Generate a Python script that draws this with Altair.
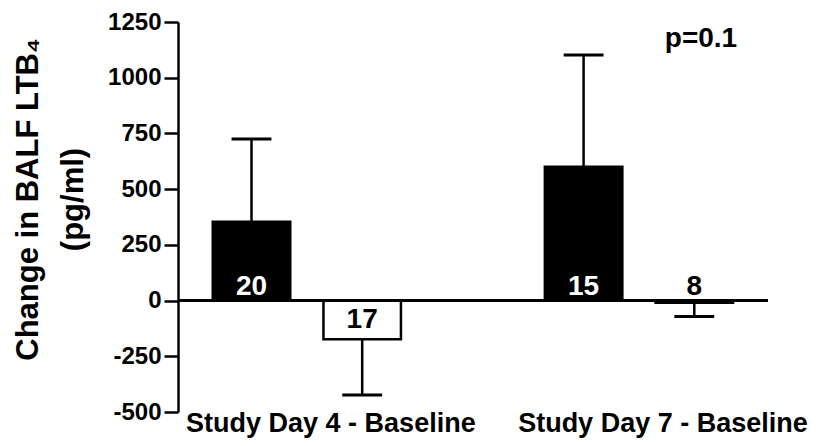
import altair as alt
import pandas as pd

# ---- data ----
positions = [1, 2, 4, 5]
means = [354, -174, 601, -10]
sems = [371, 250, 501, 62]
ns = ["20", "17", "15", "8"]
fills = ["#000000", "#ffffff", "#000000", "#ffffff"]
label_colors = ["#ffffff", "#000000", "#ffffff", "#000000"]
label_side = ["above", "below", "above", "above"]
group_labels = ["Study Day 4 - Baseline", "Study Day 7 - Baseline"]
group_pos = [1.5, 4.5]
y_ticks = [-500, -250, 0, 250, 500, 750, 1000, 1250]
y_title = ["Change in BALF LTB\u2084", "(pg/ml)"]
p_text = "p=0.1"

FONT = "Liberation Sans"
BAR_HALF = 0.35
CAP_HALF = 0.18

df = pd.DataFrame({
    "pos": positions, "mean": means, "sem": sems, "n": ns,
    "fill": fills, "lc": label_colors, "side": label_side,
})
df["zero"] = 0
df["end"] = [m + (s if m >= 0 else -s) for m, s in zip(means, sems)]
df["lo"] = df["pos"] - BAR_HALF
df["hi"] = df["pos"] + BAR_HALF
df["cap_lo"] = df["pos"] - CAP_HALF
df["cap_hi"] = df["pos"] + CAP_HALF

gdf = pd.DataFrame({"pos": group_pos, "label": group_labels})

xs = alt.Scale(domain=[0.336, 5.684], nice=False, zero=False)
ys = alt.Scale(domain=[-500, 1250], nice=False, zero=False)

yaxis = alt.Axis(
    values=y_ticks, grid=False, labelFlush=False, labelOverlap=False,
    labelExpr="'' + datum.value",
    labelFont=FONT, labelFontSize=24, labelFontWeight="bold", labelColor="black",
    labelPadding=3, tickSize=14, tickWidth=2.5, tickColor="black",
    domainColor="black", domainWidth=2.5,
    title=y_title, titleFont=FONT, titleFontSize=31, titleFontWeight="bold",
    titleColor="black", titleAngle=270, titleX=-141, titleY=177,
    titleAlign="center", titleBaseline="alphabetic", titleLineHeight=45,
)

base = alt.Chart(df)

bars = base.mark_bar(stroke="black", strokeWidth=2.5).encode(
    x=alt.X("lo:Q", scale=xs, axis=None),
    x2="hi:Q",
    y=alt.Y("mean:Q", scale=ys, axis=yaxis),
    y2="zero:Q",
    fill=alt.Fill("fill:N", scale=None),
)

zero_line = alt.Chart(pd.DataFrame({"y": [0]})).mark_rule(
    color="black", strokeWidth=3
).encode(y=alt.Y("y:Q", scale=ys), x=alt.value(0), x2=alt.value(590))

stems = base.mark_rule(color="black", strokeWidth=2.5).encode(
    x=alt.X("pos:Q", scale=xs), y=alt.Y("mean:Q", scale=ys), y2="end:Q"
)
caps = base.mark_rule(color="black", strokeWidth=3).encode(
    x=alt.X("cap_lo:Q", scale=xs), x2="cap_hi:Q", y=alt.Y("end:Q", scale=ys)
)

lab_above = base.transform_filter(alt.datum.side == "above").mark_text(
    font=FONT, fontSize=28, fontWeight="bold", baseline="alphabetic", dy=-6
).encode(
    x=alt.X("pos:Q", scale=xs), y=alt.Y("zero:Q", scale=ys), text="n:N",
    color=alt.Color("lc:N", scale=None),
)
lab_below = base.transform_filter(alt.datum.side == "below").mark_text(
    font=FONT, fontSize=28, fontWeight="bold", baseline="alphabetic", dy=27
).encode(
    x=alt.X("pos:Q", scale=xs), y=alt.Y("zero:Q", scale=ys), text="n:N",
    color=alt.Color("lc:N", scale=None),
)

group_text = alt.Chart(gdf).mark_text(
    font=FONT, fontSize=27, fontWeight="bold", baseline="alphabetic",
    align="center", dx=24, color="black"
).encode(x=alt.X("pos:Q", scale=xs), y=alt.value(410), text="label:N")

p_label = alt.Chart(pd.DataFrame({"t": [p_text]})).mark_text(
    font=FONT, fontSize=28, fontWeight="bold", baseline="alphabetic",
    align="center", color="black"
).encode(x=alt.value(523), y=alt.value(25), text="t:N")

chart = alt.layer(
    bars, zero_line, stems, caps, lab_above, lab_below, group_text, p_label
).properties(
    width=592, height=390,
    autosize=alt.AutoSizeParams(type="none"),
    padding={"left": 170, "top": 14, "right": 46, "bottom": 26},
    background="white",
).configure_view(stroke=None)

chart.save("out.html", embed_options={"renderer": "svg", "actions": False})
